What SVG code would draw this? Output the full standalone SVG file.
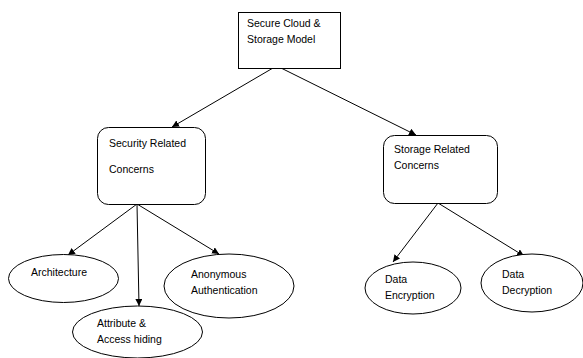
<svg xmlns="http://www.w3.org/2000/svg" width="583" height="358" viewBox="0 0 583 358">
<style>
.box{fill:#fff;stroke:#000;stroke-width:1}
.ell{fill:#fff;stroke:#000;stroke-width:1}
.t{font-family:"Liberation Sans",Arial,sans-serif;font-size:10.5px;fill:#000}
.c{stroke:#000;stroke-width:1;fill:none;marker-end:url(#ah)}
</style>
<defs>
<marker id="ah" viewBox="0 0 10 10" refX="10" refY="5" markerWidth="7" markerHeight="7" markerUnits="userSpaceOnUse" orient="auto">
<path d="M0,0 L10,5 L0,10 z" fill="#000"/>
</marker>
</defs>
<rect width="583" height="358" fill="#fff"/>
<g id="connectors">
<line class="c" x1="273" y1="68" x2="172" y2="127"/>
<line class="c" x1="281" y1="68" x2="416" y2="135"/>
<line class="c" x1="137" y1="204" x2="68" y2="255"/>
<line class="c" x1="137" y1="204" x2="139" y2="306"/>
<line class="c" x1="137" y1="204" x2="219" y2="254"/>
<line class="c" x1="438" y1="203" x2="393" y2="262"/>
<line class="c" x1="438" y1="203" x2="524" y2="256"/>
</g>
<g id="secure-cloud">
<rect class="box" x="238.5" y="12.5" width="102" height="56"/>
<text class="t" x="247" y="27">Secure Cloud &amp;</text>
<text class="t" x="247" y="43">Storage Model</text>
</g>
<g id="security">
<rect class="box" x="97.5" y="127.5" width="108" height="77" rx="11"/>
<text class="t" x="109" y="147">Security Related</text>
<text class="t" x="109" y="173">Concerns</text>
</g>
<g id="storage">
<rect class="box" x="383.5" y="135.5" width="114" height="68" rx="11"/>
<text class="t" x="394" y="153">Storage Related</text>
<text class="t" x="394" y="169">Concerns</text>
</g>
<g id="architecture">
<ellipse class="ell" cx="63.5" cy="278.5" rx="55" ry="24"/>
<text class="t" x="31" y="276">Architecture</text>
</g>
<g id="attribute">
<ellipse class="ell" cx="137.5" cy="332" rx="65" ry="26"/>
<text class="t" x="97" y="327">Attribute &amp;</text>
<text class="t" x="97" y="343">Access hiding</text>
</g>
<g id="anonymous">
<ellipse class="ell" cx="229" cy="286" rx="65" ry="32"/>
<text class="t" x="191" y="278">Anonymous</text>
<text class="t" x="191" y="294">Authentication</text>
</g>
<g id="encryption">
<ellipse class="ell" cx="413" cy="288" rx="48" ry="26"/>
<text class="t" x="385" y="283">Data</text>
<text class="t" x="385" y="299">Encryption</text>
</g>
<g id="decryption">
<ellipse class="ell" cx="532" cy="283" rx="51" ry="29"/>
<text class="t" x="502" y="278">Data</text>
<text class="t" x="502" y="294">Decryption</text>
</g>
</svg>
